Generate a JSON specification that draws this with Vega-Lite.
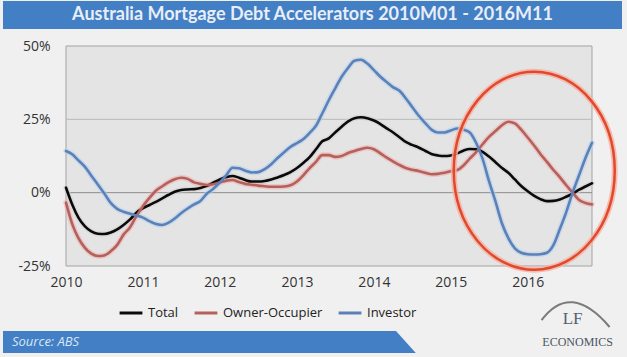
{
  "$schema": "https://vega.github.io/schema/vega-lite/v6.json",
  "background": "#f0f0f0",
  "padding": {"left": 3, "top": 1, "right": 5, "bottom": 7},
  "spacing": 10,
  "resolve": {"scale": {"color": "independent", "stroke": "independent"}, "legend": {"color": "independent", "stroke": "independent"}},
  "config": {"view": {"stroke": null}, "font": "Open Sans"},
  "vconcat": [
    {
      "width": 619,
      "height": 28,
      "view": {"fill": "#437fc4", "stroke": null},
      "data": {"values": [{"title": "Australia Mortgage Debt Accelerators 2010M01  - 2016M11"}]},
      "mark": {"type": "text", "font": "Lato", "fontSize": 18, "fontWeight": "bold", "color": "#e8eef8"},
      "encoding": {"text": {"field": "title"}}
    },
    {
      "spacing": -3,
      "resolve": {"scale": {"color": "independent", "stroke": "independent"}, "legend": {"color": "independent", "stroke": "independent"}},
      "vconcat": [
        {
          "width": 589,
          "height": 220,
          "view": {"fill": null, "stroke": null},
          "data": {"values": [
            {"d": "2010-01-01", "Total": 1.7, "Owner-Occupier": -3.4, "Investor": 14.2},
            {"d": "2010-02-01", "Total": -4.3, "Owner-Occupier": -11, "Investor": 13},
            {"d": "2010-03-01", "Total": -8.5, "Owner-Occupier": -15.5, "Investor": 11},
            {"d": "2010-04-01", "Total": -11.5, "Owner-Occupier": -18.8, "Investor": 8.8},
            {"d": "2010-05-01", "Total": -13.2, "Owner-Occupier": -20.8, "Investor": 5.8},
            {"d": "2010-06-01", "Total": -14, "Owner-Occupier": -21.6, "Investor": 2.8},
            {"d": "2010-07-01", "Total": -14.1, "Owner-Occupier": -21.4, "Investor": -0.2},
            {"d": "2010-08-01", "Total": -13.6, "Owner-Occupier": -20, "Investor": -3.5},
            {"d": "2010-09-01", "Total": -12.5, "Owner-Occupier": -17.8, "Investor": -5.5},
            {"d": "2010-10-01", "Total": -11, "Owner-Occupier": -14.3, "Investor": -6.5},
            {"d": "2010-11-01", "Total": -9.1, "Owner-Occupier": -11.8, "Investor": -7.2},
            {"d": "2010-12-01", "Total": -6.8, "Owner-Occupier": -8, "Investor": -7.8},
            {"d": "2011-01-01", "Total": -5.3, "Owner-Occupier": -4.6, "Investor": -8.5},
            {"d": "2011-02-01", "Total": -4.2, "Owner-Occupier": -1.8, "Investor": -9.7},
            {"d": "2011-03-01", "Total": -3.2, "Owner-Occupier": 0.5, "Investor": -10.6},
            {"d": "2011-04-01", "Total": -2, "Owner-Occupier": 2.1, "Investor": -11},
            {"d": "2011-05-01", "Total": -0.8, "Owner-Occupier": 3.5, "Investor": -10.3},
            {"d": "2011-06-01", "Total": 0.3, "Owner-Occupier": 4.6, "Investor": -8.8},
            {"d": "2011-07-01", "Total": 0.9, "Owner-Occupier": 5.1, "Investor": -7},
            {"d": "2011-08-01", "Total": 1.1, "Owner-Occupier": 4.7, "Investor": -5.4},
            {"d": "2011-09-01", "Total": 1.2, "Owner-Occupier": 3.5, "Investor": -4},
            {"d": "2011-10-01", "Total": 1.6, "Owner-Occupier": 3.0, "Investor": -2.8},
            {"d": "2011-11-01", "Total": 2.3, "Owner-Occupier": 2.6, "Investor": -0.3},
            {"d": "2011-12-01", "Total": 3.4, "Owner-Occupier": 2.9, "Investor": 1.3},
            {"d": "2012-01-01", "Total": 4.5, "Owner-Occupier": 3.5, "Investor": 3.5},
            {"d": "2012-02-01", "Total": 5.3, "Owner-Occupier": 4.1, "Investor": 6},
            {"d": "2012-03-01", "Total": 5.7, "Owner-Occupier": 4.3, "Investor": 8.5},
            {"d": "2012-04-01", "Total": 5.1, "Owner-Occupier": 3.6, "Investor": 8.3},
            {"d": "2012-05-01", "Total": 4.3, "Owner-Occupier": 3, "Investor": 7.5},
            {"d": "2012-06-01", "Total": 3.8, "Owner-Occupier": 2.7, "Investor": 6.9},
            {"d": "2012-07-01", "Total": 3.8, "Owner-Occupier": 2.4, "Investor": 7},
            {"d": "2012-08-01", "Total": 4, "Owner-Occupier": 2.2, "Investor": 8},
            {"d": "2012-09-01", "Total": 4.5, "Owner-Occupier": 2, "Investor": 9.7},
            {"d": "2012-10-01", "Total": 5.2, "Owner-Occupier": 2, "Investor": 11.8},
            {"d": "2012-11-01", "Total": 6, "Owner-Occupier": 2.1, "Investor": 13.8},
            {"d": "2012-12-01", "Total": 7, "Owner-Occupier": 2.5, "Investor": 15.6},
            {"d": "2013-01-01", "Total": 8.4, "Owner-Occupier": 3.8, "Investor": 16.9},
            {"d": "2013-02-01", "Total": 10.2, "Owner-Occupier": 6, "Investor": 18.3},
            {"d": "2013-03-01", "Total": 12, "Owner-Occupier": 8.3, "Investor": 20.3},
            {"d": "2013-04-01", "Total": 14.8, "Owner-Occupier": 10.5, "Investor": 22.8},
            {"d": "2013-05-01", "Total": 17.5, "Owner-Occupier": 12.8, "Investor": 27},
            {"d": "2013-06-01", "Total": 18.5, "Owner-Occupier": 12.8, "Investor": 31.5},
            {"d": "2013-07-01", "Total": 20.5, "Owner-Occupier": 12.2, "Investor": 35.5},
            {"d": "2013-08-01", "Total": 22.5, "Owner-Occupier": 12.5, "Investor": 39.5},
            {"d": "2013-09-01", "Total": 24.3, "Owner-Occupier": 13.5, "Investor": 42.6},
            {"d": "2013-10-01", "Total": 25.4, "Owner-Occupier": 14.2, "Investor": 45},
            {"d": "2013-11-01", "Total": 25.7, "Owner-Occupier": 14.9, "Investor": 45.3},
            {"d": "2013-12-01", "Total": 25.4, "Owner-Occupier": 15.3, "Investor": 44},
            {"d": "2014-01-01", "Total": 24.6, "Owner-Occupier": 14.8, "Investor": 41.8},
            {"d": "2014-02-01", "Total": 23.4, "Owner-Occupier": 13.4, "Investor": 39.5},
            {"d": "2014-03-01", "Total": 22, "Owner-Occupier": 12, "Investor": 37.8},
            {"d": "2014-04-01", "Total": 20.6, "Owner-Occupier": 10.7, "Investor": 36},
            {"d": "2014-05-01", "Total": 19, "Owner-Occupier": 9.5, "Investor": 34.8},
            {"d": "2014-06-01", "Total": 17.3, "Owner-Occupier": 8.4, "Investor": 32.2},
            {"d": "2014-07-01", "Total": 16.3, "Owner-Occupier": 7.8, "Investor": 29.3},
            {"d": "2014-08-01", "Total": 15.4, "Owner-Occupier": 7.4, "Investor": 26.3},
            {"d": "2014-09-01", "Total": 14.3, "Owner-Occupier": 6.8, "Investor": 23.8},
            {"d": "2014-10-01", "Total": 13.2, "Owner-Occupier": 6.3, "Investor": 21.5},
            {"d": "2014-11-01", "Total": 12.7, "Owner-Occupier": 6.4, "Investor": 20.5},
            {"d": "2014-12-01", "Total": 12.5, "Owner-Occupier": 6.8, "Investor": 20.5},
            {"d": "2015-01-01", "Total": 12.7, "Owner-Occupier": 7.3, "Investor": 21.2},
            {"d": "2015-02-01", "Total": 13.4, "Owner-Occupier": 7.7, "Investor": 21.9},
            {"d": "2015-03-01", "Total": 14.3, "Owner-Occupier": 9.2, "Investor": 21.5},
            {"d": "2015-04-01", "Total": 14.9, "Owner-Occupier": 11.6, "Investor": 20.5},
            {"d": "2015-05-01", "Total": 14.8, "Owner-Occupier": 13.8, "Investor": 17},
            {"d": "2015-06-01", "Total": 13.9, "Owner-Occupier": 16.5, "Investor": 11.5},
            {"d": "2015-07-01", "Total": 12.3, "Owner-Occupier": 19, "Investor": 4},
            {"d": "2015-08-01", "Total": 10.4, "Owner-Occupier": 21, "Investor": -3},
            {"d": "2015-09-01", "Total": 8.4, "Owner-Occupier": 23, "Investor": -10.5},
            {"d": "2015-10-01", "Total": 6.8, "Owner-Occupier": 24.2, "Investor": -15.5},
            {"d": "2015-11-01", "Total": 4.5, "Owner-Occupier": 23.6, "Investor": -19},
            {"d": "2015-12-01", "Total": 2.3, "Owner-Occupier": 21.5, "Investor": -20.5},
            {"d": "2016-01-01", "Total": 0.5, "Owner-Occupier": 18.8, "Investor": -21},
            {"d": "2016-02-01", "Total": -1.1, "Owner-Occupier": 16, "Investor": -21.1},
            {"d": "2016-03-01", "Total": -2.2, "Owner-Occupier": 13.2, "Investor": -21},
            {"d": "2016-04-01", "Total": -2.9, "Owner-Occupier": 10.5, "Investor": -20.5},
            {"d": "2016-05-01", "Total": -2.8, "Owner-Occupier": 7.8, "Investor": -18},
            {"d": "2016-06-01", "Total": -2.3, "Owner-Occupier": 5.3, "Investor": -12.5},
            {"d": "2016-07-01", "Total": -1.4, "Owner-Occupier": 2.6, "Investor": -6.8},
            {"d": "2016-08-01", "Total": -0.3, "Owner-Occupier": 0, "Investor": 0},
            {"d": "2016-09-01", "Total": 1, "Owner-Occupier": -2.5, "Investor": 6},
            {"d": "2016-10-01", "Total": 2.1, "Owner-Occupier": -3.5, "Investor": 11.8},
            {"d": "2016-11-01", "Total": 3.2, "Owner-Occupier": -4, "Investor": 17}
          ]},
          "transform": [{"fold": ["Total", "Owner-Occupier", "Investor"], "as": ["series", "value"]}],
          "layer": [
            {
              "data": {"values": [{"area": "plot"}]},
              "mark": {"type": "rect", "fill": "#e4e4e4", "stroke": "#a3a3a3", "strokeWidth": 1},
              "encoding": {
                "x": {"datum": {"year": 2010, "month": 1, "date": 1, "utc": true}, "type": "temporal", "title": null},
                "x2": {"datum": {"year": 2016, "month": 11, "date": 1, "utc": true}},
                "y": {"datum": -25, "type": "quantitative", "title": null},
                "y2": {"datum": 50}
              }
            },
            {
              "data": {"values": [{"ref": "grid"}]},
              "mark": {"type": "rule", "color": "#b8b8b8", "strokeWidth": 1},
              "encoding": {
                "x": {"datum": {"year": 2010, "month": 1, "date": 1, "utc": true}, "type": "temporal", "title": null},
                "x2": {"datum": {"year": 2016, "month": 11, "date": 1, "utc": true}},
                "y": {"datum": 25, "type": "quantitative", "title": null}
              }
            },
            {
              "data": {"values": [{"ref": "zero"}]},
              "mark": {"type": "rule", "color": "#8c8c8c", "strokeWidth": 1},
              "encoding": {
                "x": {"datum": {"year": 2010, "month": 1, "date": 1, "utc": true}, "type": "temporal", "title": null},
                "x2": {"datum": {"year": 2016, "month": 11, "date": 1, "utc": true}},
                "y": {"datum": 0, "type": "quantitative", "title": null}
              }
            },
            {
              "mark": {"type": "line", "interpolate": "monotone", "strokeWidth": 5.5, "opacity": 0.55, "strokeCap": "round"},
              "encoding": {
                "x": {"field": "d", "type": "temporal", "title": null,
                  "scale": {"type": "utc", "range": [63, 589], "domain": [{"year": 2010, "month": 1, "date": 1, "utc": true}, {"year": 2016, "month": 11, "date": 1, "utc": true}]},
                  "axis": {"values": [{"year": 2010, "month": 1, "date": 1, "utc": true}, {"year": 2011, "month": 1, "date": 1, "utc": true}, {"year": 2012, "month": 1, "date": 1, "utc": true}, {"year": 2013, "month": 1, "date": 1, "utc": true}, {"year": 2014, "month": 1, "date": 1, "utc": true}, {"year": 2015, "month": 1, "date": 1, "utc": true}, {"year": 2016, "month": 1, "date": 1, "utc": true}],
                    "format": "%Y", "grid": false, "domain": false, "ticks": false, "labelPadding": 9, "labelFlush": false, "labelOverlap": false,
                    "labelFont": "Open Sans", "labelFontSize": 14, "labelColor": "#333333"}},
                "y": {"field": "value", "type": "quantitative", "title": null,
                  "scale": {"domain": [-25, 50], "nice": false, "zero": false},
                  "axis": {"values": [-25, 0, 25, 50], "labelExpr": "datum.value + '%'", "grid": false, "domain": false, "ticks": false, "offset": -63,
                    "labelPadding": 16, "labelFont": "Open Sans", "labelFontSize": 14, "labelColor": "#333333"}},
                "stroke": {"field": "series", "type": "nominal", "legend": null,
                  "scale": {"domain": ["Investor", "Owner-Occupier", "Total"], "range": ["#b5cdee", "#f0aeac", "#d0d0d0"]}}
              }
            },
            {
              "mark": {"type": "line", "interpolate": "monotone", "strokeWidth": 2.6, "strokeCap": "round"},
              "encoding": {
                "x": {"field": "d", "type": "temporal", "title": null},
                "y": {"field": "value", "type": "quantitative", "title": null},
                "color": {"field": "series", "type": "nominal",
                  "scale": {"domain": ["Total", "Owner-Occupier", "Investor"], "range": ["#0a0a0a", "#b4605d", "#5a82b8"]},
                  "legend": {"orient": "none", "legendX": 115, "legendY": 254, "direction": "horizontal", "title": null, "zindex": 1,
                    "symbolType": "stroke", "symbolSize": 520, "symbolStrokeWidth": 3, "labelFont": "Open Sans", "labelFontSize": 13,
                    "labelColor": "#222222", "labelOffset": 4, "columnPadding": 9}}
              }
            },
            {
              "data": {"values": [{"note": "highlight"}]},
              "mark": {"type": "point", "shape": "M -0.813 0 A 0.813 1 0 1 0 0.813 0 A 0.813 1 0 1 0 -0.813 0 Z", "size": 39204, "filled": false, "strokeWidth": 6, "color": "#f5b3a3", "opacity": 0.8, "clip": false},
              "encoding": {
                "x": {"datum": {"year": 2016, "month": 2, "date": 1, "utc": true}, "type": "temporal", "title": null},
                "y": {"datum": 7.5, "type": "quantitative", "title": null}
              }
            },
            {
              "data": {"values": [{"note": "highlight"}]},
              "mark": {"type": "point", "shape": "M -0.813 0 A 0.813 1 0 1 0 0.813 0 A 0.813 1 0 1 0 -0.813 0 Z", "size": 39204, "filled": false, "strokeWidth": 2.5, "color": "#e2482c", "opacity": 1, "clip": false},
              "encoding": {
                "x": {"datum": {"year": 2016, "month": 2, "date": 1, "utc": true}, "type": "temporal", "title": null},
                "y": {"datum": 7.5, "type": "quantitative", "title": null}
              }
            },
            {
              "data": {"values": [{"logo": "LF-arc"}]},
              "mark": {"type": "point", "shape": "M -1 0.3 Q -0.15 -0.85 1 0.5", "size": 4624, "filled": false, "strokeWidth": 2, "color": "#7b7b7b", "opacity": 1, "clip": false},
              "encoding": {
                "x": {"datum": {"year": 2016, "month": 8, "date": 15, "utc": true}, "type": "temporal", "title": null},
                "y": {"datum": -40, "type": "quantitative", "title": null}
              }
            },
            {
              "data": {"values": [{"logo": "LF"}]},
              "mark": {"type": "text", "font": "Liberation Serif", "fontSize": 17, "color": "#56606a", "clip": false},
              "encoding": {
                "text": {"field": "logo"},
                "x": {"datum": {"year": 2016, "month": 8, "date": 1, "utc": true}, "type": "temporal", "title": null},
                "y": {"datum": -43, "type": "quantitative", "title": null}
              }
            }
          ]
        },
        {
          "spacing": 0,
          "hconcat": [
            {
              "width": 393,
              "height": 22,
              "view": {"fill": "#437fc4", "stroke": null},
              "data": {"values": [{"src": "Source: ABS"}]},
              "mark": {"type": "text", "align": "left", "dx": 9, "font": "Open Sans", "fontStyle": "italic", "fontSize": 13, "color": "#d9e6f5"},
              "encoding": {
                "text": {"field": "src"},
                "x": {"datum": 0, "type": "quantitative", "scale": {"domain": [0, 1]}, "axis": null}
              }
            },
            {
              "width": 222,
              "height": 22,
              "view": {"fill": "#f0f0f0", "stroke": null},
              "data": {"values": [{"logo": "ECONOMICS"}]},
              "layer": [
                {
                  "mark": {"type": "point", "shape": "M 0 -1 L 0 1 L 1.8 1 Z", "size": 484, "filled": true, "color": "#437fc4", "opacity": 1, "strokeWidth": 0},
                  "encoding": {"x": {"datum": 0, "type": "quantitative", "scale": {"domain": [0, 1]}, "axis": null}}
                },
                {
                  "mark": {"type": "text", "align": "right", "dx": -5, "font": "Liberation Serif", "fontSize": 12, "color": "#4a5563"},
                  "encoding": {
                    "text": {"field": "logo"},
                    "x": {"datum": 1, "type": "quantitative", "axis": null}
                  }
                }
              ]
            }
          ]
        }
      ]
    }
  ]
}
